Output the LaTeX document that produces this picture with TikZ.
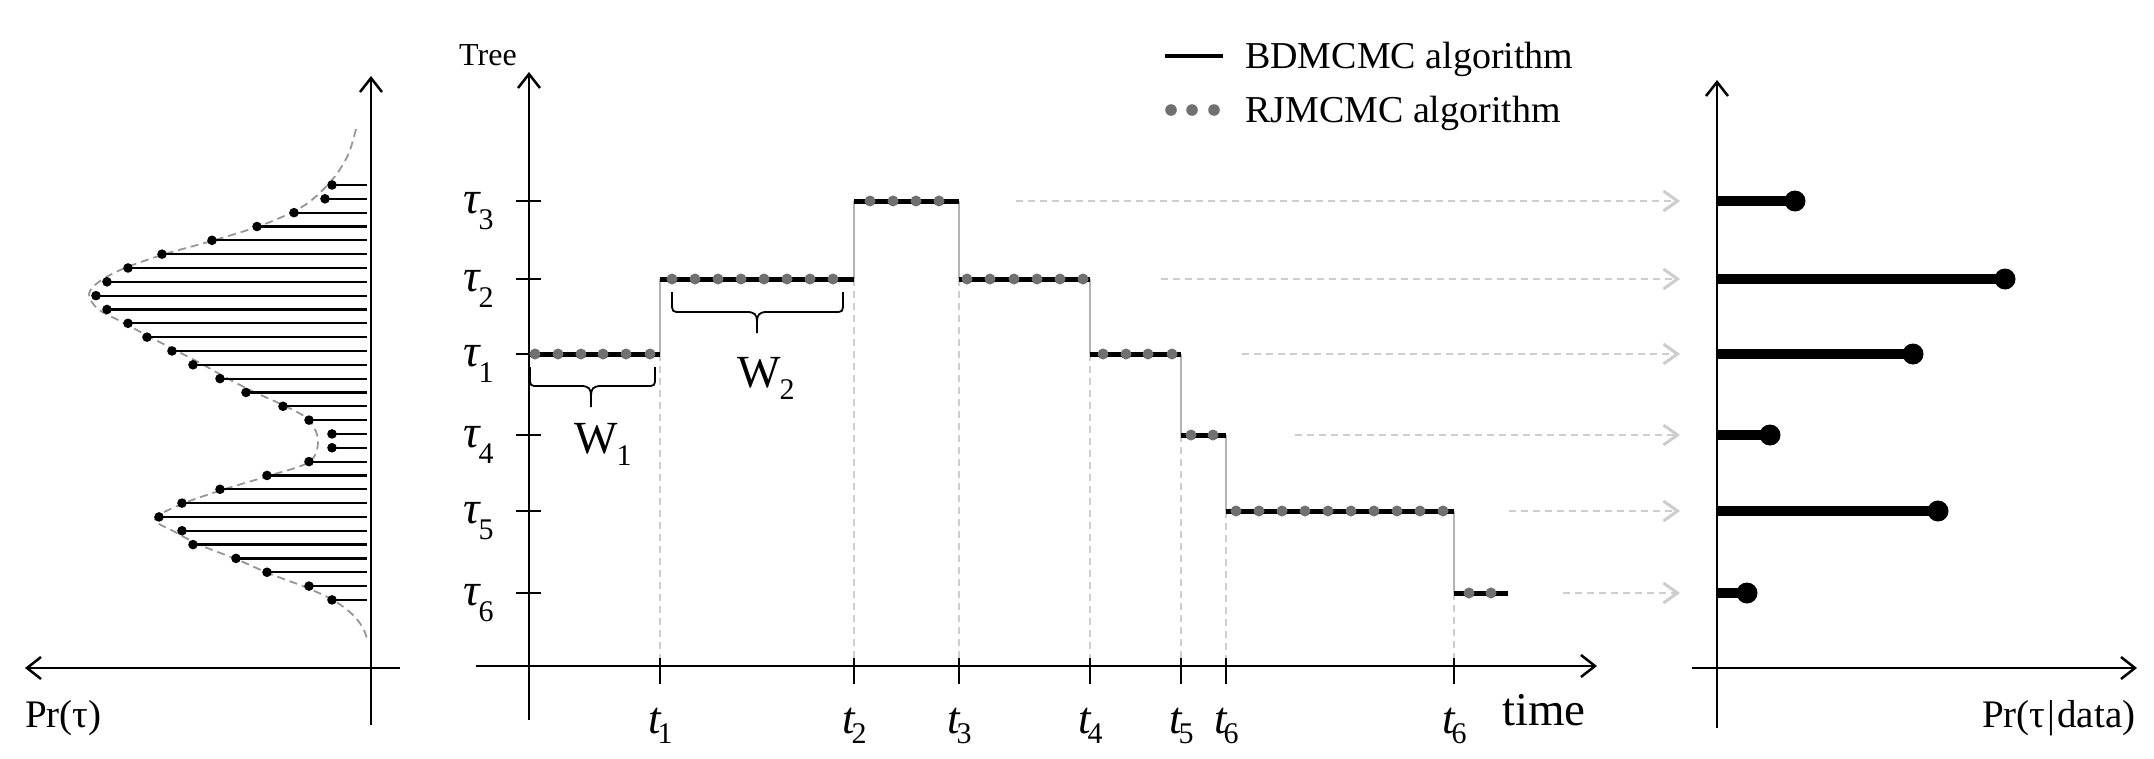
\documentclass[tikz,border=0pt]{standalone}
\usepackage{fontspec}
\setmainfont{Liberation Serif}
\usetikzlibrary{arrows.meta}
\definecolor{dotgray}{RGB}{112,112,112}
\definecolor{lightdash}{RGB}{205,205,205}
\definecolor{stepgray}{RGB}{180,180,180}
\definecolor{curvegray}{RGB}{150,150,150}
\newcommand{\taulab}[1]{{\fontsize{46}{46}\selectfont\itshape τ}\kern-1pt\raisebox{-16pt}{\fontsize{30}{30}\selectfont #1}}
\newcommand{\tlab}[1]{{\fontsize{45}{45}\selectfont\itshape t}\kern-3pt\raisebox{-10pt}{\fontsize{30}{30}\selectfont #1}}
\newcommand{\wlab}[1]{{\fontsize{46}{46}\selectfont W}\kern-1pt\raisebox{-12pt}{\fontsize{30}{30}\selectfont #1}}
\begin{document}
\begin{tikzpicture}[x=1pt,y=-1pt,line join=round,
  axis/.style={line width=2pt,black},
  axarrow/.style={-{Straight Barb[length=14pt,width=22pt,line width=2.5pt]}},
  stem/.style={line width=2.2pt,black},
  stepline/.style={line width=5pt,black},
  connector/.style={line width=1.5pt,stepgray},
  dropline/.style={line width=1.5pt,lightdash,dash pattern=on 7pt off 5pt},
  maparrow/.style={line width=2pt,lightdash,dash pattern=on 7pt off 5pt,
    -{Straight Barb[length=14pt,width=20pt,line width=3pt]}},
  bar/.style={line width=10pt,black},
  bracepath/.style={line width=1.8pt,black},
  lbl/.style={inner sep=0pt,anchor=base west}]
\useasboundingbox (0,0) rectangle (2154,758);

% ---------------- left panel ----------------
\draw[curvegray,line width=1.8pt,dash pattern=on 8pt off 5pt]
  plot[smooth,tension=0.55] coordinates {
  (356,129) (348,155) (332,180) (305,205) (265,224) (215,240) (165,254)
  (125,268) (100,281) (89,294) (98,309) (122,322) (148,336) (175,350)
  (200,363) (225,377) (252,391) (285,406) (309,420) (318,441) (309,462)
  (268,476) (222,490) (182,504) (155,519) (175,532) (200,545) (236,559)
  (268,573) (305,587) (333,600) (352,614) (363,628) (368,642)};
\foreach \xd [count=\i from 0] in {332,325,294,257,212,162,128,107,96,107,128,147,172,193,220,246,283,309,332,332,309,267,220,182,159,182,193,236,267,309,332}{
  \pgfmathsetmacro\yy{185+13.83*\i}
  \draw[stem] (\xd,\yy) -- (367,\yy);
  \fill (\xd,\yy) circle (4.8pt);
}
\coordinate (lyb) at (371,725); \coordinate (lyt) at (371,76);
\coordinate (lxr) at (400,668); \coordinate (lxl) at (25,668);
\draw[axis,axarrow] (lyb) -- (lyt);
\draw[axis,line width=1.6pt,axarrow] (lxr) -- (lxl);
\node[lbl] (prtau) at (25,727) {\fontsize{39}{39}\selectfont Pr(τ)};

% ---------------- main panel ----------------
% drop lines
\foreach \x/\y in {660/354,854/279,959/279,1090/354,1181/435,1226/511,1454/593}
  \draw[dropline] (\x,\y) -- (\x,666);
% step connectors
\draw[connector] (660,354) -- (660,279);
\draw[connector] (854,279) -- (854,201);
\draw[connector] (959,201) -- (959,279);
\draw[connector] (1090,279) -- (1090,354);
\draw[connector] (1181,354) -- (1181,435);
\draw[connector] (1226,435) -- (1226,511);
\draw[connector] (1454,511) -- (1454,593);
% axes
\coordinate (myb) at (529,720); \coordinate (myt) at (529,72);
\coordinate (mxl) at (476,666); \coordinate (mxr) at (1597,666);
\draw[axis,axarrow] (myb) -- (myt);
\draw[axis,axarrow] (mxl) -- (mxr);
\node[lbl] (tree) at (459,65) {\fontsize{32}{32}\selectfont Tree};
\node[lbl] (time) at (1502,725) {\fontsize{47}{47}\selectfont time};
% y ticks and labels
\foreach \y/\k in {201/3,279/2,354/1,435/4,511/5,593/6}{
  \draw[axis] (516,\y) -- (541,\y);
  \node[lbl] (tau\k) at (463,\y+12) {\taulab{\k}};
}
% x ticks and labels
\foreach \x/\k/\n in {660/1/a,854/2/b,959/3/c,1090/4/d,1181/5/e,1226/6/f,1454/6/g}{
  \draw[axis] (\x,658) -- (\x,684);
  \node[lbl] (t\n) at (\x-12,733) {\tlab{\k}};
}
% step lines
\draw[stepline] (529,354) -- (660,354);
\draw[stepline] (660,279) -- (854,279);
\draw[stepline] (854,201) -- (959,201);
\draw[stepline] (959,279) -- (1090,279);
\draw[stepline] (1090,354) -- (1181,354);
\draw[stepline] (1181,435) -- (1226,435);
\draw[stepline] (1226,511) -- (1454,511);
\draw[stepline] (1454,593) -- (1508,593);
% dots
\foreach \x in {535,558,581,603,626,650} \fill[dotgray] (\x,354) circle (5.5pt);
\foreach \x in {672,695,718,741,764,787,810,833} \fill[dotgray] (\x,279) circle (5.5pt);
\foreach \x in {870,893,916,939} \fill[dotgray] (\x,201) circle (5.5pt);
\foreach \x in {967,990,1014,1037,1060,1083} \fill[dotgray] (\x,279) circle (5.5pt);
\foreach \x in {1103,1126,1148,1172} \fill[dotgray] (\x,354) circle (5.5pt);
\foreach \x in {1191,1213} \fill[dotgray] (\x,435) circle (5.5pt);
\foreach \x in {1236,1259,1282,1305,1328,1351,1374,1397,1420,1443} \fill[dotgray] (\x,511) circle (5.5pt);
\foreach \x in {1469,1491} \fill[dotgray] (\x,593) circle (5.5pt);
% braces
\draw[bracepath] (530,367) -- (530,377) .. controls (530,386) .. (539,386) -- (581,386)
  .. controls (589,386) and (591,389) .. (591,396) -- (591,407)
  (591,396) .. controls (591,389) and (593,386) .. (601,386) -- (646,386)
  .. controls (655,386) .. (655,377) -- (655,367);
\draw[bracepath] (672,292) -- (672,302) .. controls (672,312) .. (681,312) -- (747,312)
  .. controls (755,312) and (757,315) .. (757,322) -- (757,333)
  (757,322) .. controls (757,315) and (759,312) .. (767,312) -- (834,312)
  .. controls (843,312) .. (843,302) -- (843,292);
\node[lbl] (w1) at (574,453) {\wlab{1}};
\node[lbl] (w2) at (737,387) {\wlab{2}};

% legend
\coordinate (lg1a) at (1165,56); \coordinate (lg1b) at (1223,56);
\draw[line width=4pt] (lg1a) -- (lg1b);
\foreach \x in {1171,1192,1214} \fill[dotgray] (\x,110) circle (5.8pt);
\node[lbl] (leg1) at (1245,68) {\fontsize{38}{38}\selectfont BDMCMC algorithm};
\node[lbl] (leg2) at (1245,122) {\fontsize{38}{38}\selectfont RJMCMC algorithm};

% mapping arrows
\foreach \xs/\y in {1016/201,1161/279,1242/354,1295/435,1509/511,1563/593}
  \draw[maparrow] (\xs,\y) -- (1680,\y);

% ---------------- right panel ----------------
\coordinate (ryb) at (1717,728); \coordinate (ryt) at (1717,80);
\coordinate (rxl) at (1692,668); \coordinate (rxr) at (2137,668);
\draw[axis,axarrow] (ryb) -- (ryt);
\draw[axis,axarrow] (rxl) -- (rxr);
\foreach \y/\xe in {201/1795,279/2005,354/1913,435/1770,511/1938,593/1747}{
  \draw[bar] (1717,\y) -- (\xe,\y);
  \fill (\xe,\y) circle (10.5pt);
}
\node[lbl] (prdata) at (1982,727) {\fontsize{39}{39}\selectfont Pr(τ\kern2pt|\kern2pt data)};
\end{tikzpicture}
\end{document}
